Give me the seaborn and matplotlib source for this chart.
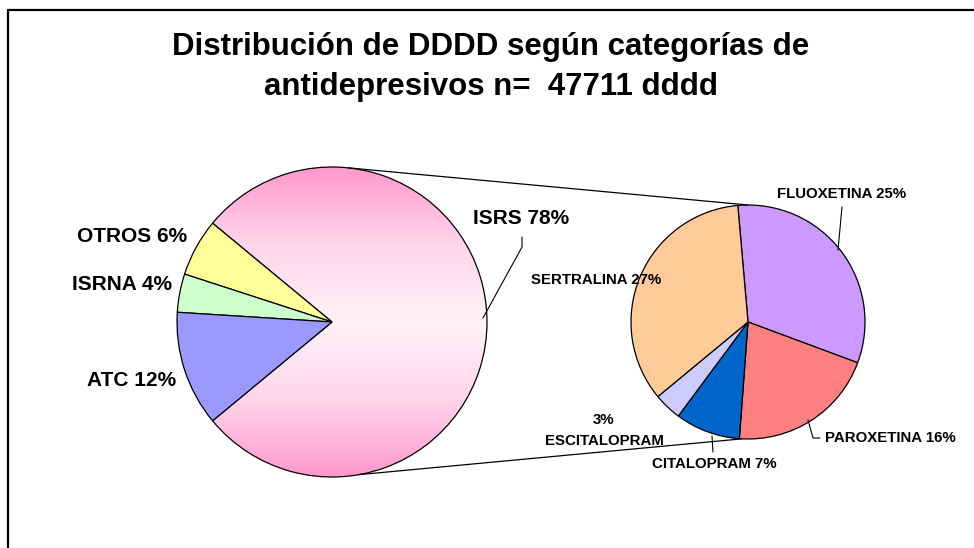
import numpy as np
import matplotlib
matplotlib.use("Agg")
import matplotlib.pyplot as plt
from matplotlib.colors import LinearSegmentedColormap
import seaborn as sns

# ---- data ----
main_labels = ["ISRS", "OTROS", "ISRNA", "ATC"]
main_values = [78, 6, 4, 12]
main_colors = ["#FF99CC", "#FFFF99", "#CCFFCC", "#9999FF"]

sub_labels = ["FLUOXETINA", "PAROXETINA", "CITALOPRAM", "ESCITALOPRAM", "SERTRALINA"]
sub_values = [25, 16, 7, 3, 27]
sub_colors = ["#CC99FF", "#FF8080", "#0066CC", "#CCCCFF", "#FFCC99"]

title = "Distribución de DDDD según categorías de\nantidepresivos n=  47711 dddd"

sns.set_theme(style="white")
plt.rcParams["font.family"] = ["Liberation Sans", "DejaVu Sans"]

W, H = 974, 548
fig = plt.figure(figsize=(W / 100, H / 100), dpi=100)
ax = fig.add_axes([0, 0, 1, 1])


def P(px, py):
    return px, H - py


def fix_axes():
    ax.set_xlim(0, W)
    ax.set_ylim(0, H)
    ax.set_aspect("equal")
    ax.axis("off")


# frame (top & left visible)
ax.plot([8, W + 5], [H - 10, H - 10], color="black", lw=1.6, zorder=1)
ax.plot([8, 8], [-5, H - 10], color="black", lw=1.6, zorder=1)

# ---- main pie ----
mc = P(332, 322)
mr = 155
start_main = -main_values[0] / sum(main_values) * 360 / 2
wedges_m, _ = ax.pie(main_values, colors=main_colors, radius=mr, center=mc,
                     startangle=start_main, counterclock=True, frame=True,
                     wedgeprops=dict(edgecolor="black", linewidth=0.9))
fix_axes()

# gradient fill for ISRS wedge
isrs = wedges_m[0]
isrs.set_facecolor("none")
grad = LinearSegmentedColormap.from_list(
    "pinkgrad", ["#FF99CC", "#FFD6EA", "#FFF2F8", "#FFD6EA", "#FF99CC"])
g = np.linspace(0, 1, 256).reshape(-1, 1)
im = ax.imshow(g, cmap=grad, aspect="auto",
               extent=(mc[0] - mr, mc[0] + mr, mc[1] - mr, mc[1] + mr),
               origin="lower", zorder=0.5)
im.set_clip_path(isrs)

# ---- secondary pie ----
sc = P(748, 322)
sr = 117
wedges_s, _ = ax.pie(sub_values, colors=sub_colors, radius=sr, center=sc,
                     startangle=95, counterclock=False, frame=True,
                     wedgeprops=dict(edgecolor="black", linewidth=0.9))
fix_axes()

# connector lines
a1, a2 = np.deg2rad(84), np.deg2rad(-80)
b1, b2 = np.deg2rad(90), np.deg2rad(-93)
ax.plot([mc[0] + mr * np.cos(a1), sc[0] + sr * np.cos(b1)],
        [mc[1] + mr * np.sin(a1), sc[1] + sr * np.sin(b1)], color="black", lw=0.9, zorder=3)
ax.plot([mc[0] + mr * np.cos(a2), sc[0] + sr * np.cos(b2)],
        [mc[1] + mr * np.sin(a2), sc[1] + sr * np.sin(b2)], color="black", lw=0.9, zorder=3)

# ---- title ----
ax.text(*P(491, 67), title, ha="center", va="center", fontsize=22.5,
        fontweight="bold", linespacing=1.42, color="black")

# ---- labels ----
big = dict(fontsize=15, fontweight="bold", ha="center", va="center", color="black")
small = dict(fontsize=10.8, fontweight="bold", ha="center", va="center", color="black")

main_pos = {"ISRS": (521, 218), "OTROS": (132, 236), "ISRNA": (122, 284), "ATC": (132, 380)}
for lab, val in zip(main_labels, main_values):
    ax.text(*P(*main_pos[lab]), f"{lab} {val}%", **big)

sub_pos = {"FLUOXETINA": (842, 194), "PAROXETINA": (890, 438), "CITALOPRAM": (714, 464),
           "SERTRALINA": (596, 280)}
for lab, val in zip(sub_labels, sub_values):
    if lab == "ESCITALOPRAM":
        ax.text(*P(604, 420), f"{val}%", **small)
        ax.text(*P(604, 441), lab, **small)
    else:
        ax.text(*P(*sub_pos[lab]), f"{lab} {val}%", **small, zorder=5)

# leader lines
leaders = [
    [(522, 237), (522, 247), (483, 318)],
    [(842, 207), (838, 250)],
    [(820, 438), (813, 438), (808, 420)],
    [(713, 452), (712, 436)],
]
for pts in leaders:
    xs = [p[0] for p in pts]
    ys = [H - p[1] for p in pts]
    ax.plot(xs, ys, color="black", lw=0.8, zorder=4)

fig.savefig("out.png", dpi=100, facecolor="white")
